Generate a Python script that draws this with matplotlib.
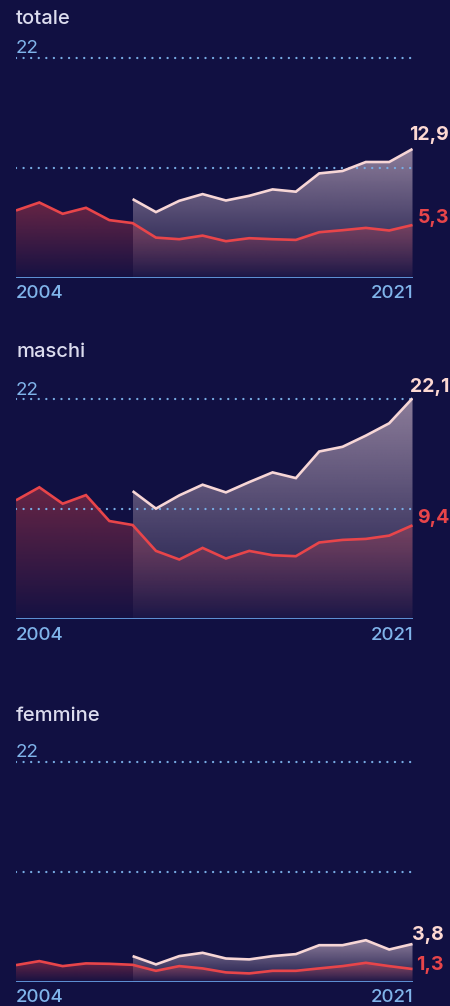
import numpy as np
import matplotlib
matplotlib.use("Agg")
import matplotlib.pyplot as plt
from matplotlib.colors import to_rgb

plt.rcParams['font.family'] = ['Inter', 'DejaVu Sans']

# ---- data -------------------------------------------------------------
years_all = list(range(2004, 2022))
years_new = list(range(2009, 2022))

panel_titles = ["totale", "maschi", "femmine"]

red_totale = [6.75, 7.55, 6.42, 7.02, 5.79, 5.49, 4.04, 3.88, 4.24, 3.68,
              3.98, 3.88, 3.81, 4.58, 4.78, 5.01, 4.75, 5.3]
white_totale = [7.89, 6.59, 7.72, 8.39, 7.75, 8.22, 8.86, 8.63, 10.46,
                10.7, 11.6, 11.6, 12.9]

red_maschi = [11.9, 13.2, 11.56, 12.42, 9.83, 9.43, 6.84, 5.98, 7.14, 6.08,
              6.84, 6.41, 6.31, 7.68, 7.94, 8.04, 8.37, 9.4]
white_maschi = [12.82, 11.07, 12.39, 13.46, 12.69, 13.72, 14.69, 14.12,
                16.78, 17.25, 18.37, 19.6, 22.1]

red_femmine = [1.69, 2.09, 1.59, 1.86, 1.82, 1.72, 1.12, 1.59, 1.36, 0.96,
               0.86, 1.12, 1.12, 1.36, 1.59, 1.92, 1.59, 1.3]
white_femmine = [2.59, 1.76, 2.59, 2.92, 2.35, 2.26, 2.59, 2.79, 3.68,
                 3.68, 4.18, 3.25, 3.8]

red_series = [red_totale, red_maschi, red_femmine]
white_series = [white_totale, white_maschi, white_femmine]

grid_values = [11, 22]
top_tick_label = "22"
first_year_label = "2004"
last_year_label = "2021"

# ---- style ------------------------------------------------------------
BG = "#111042"
RED = "#e8454a"
WHITE_LINE = "#f7d6d6"
WHITE_FILL = "#f2d6e2"
LABEL_WHITE = "#fdd9d3"
AXIS_BLUE = "#5f92d6"
DOT_BLUE = "#78acE4"
TEXT_BLUE = "#80b4ea"
TITLE = "#dcdcee"

W, H = 450, 1006
DPI = 100
X0, X1 = 16.0, 412.5          # pixel span of 2004..2021
PX_PER_UNIT = 10.0
YTOP = 24.0
baselines = [278.0, 619.3, 982.0]
title_baselines = [23.5, 356.7, 720.7]

# value labels: right edge (px) and vertical centre offset above last point (px)
label_right = [449, 449, 444]
label_dy = [((14), (7)), ((11), (7)), ((9), (4))]


def fy(ypx):
    return 1 - ypx / H


def grad_fill(ax, x, y, rgb, a_top, a_bot, z):
    poly = ax.fill_between(x, y, 0, facecolor="none", edgecolor="none")
    ymax = max(y)
    n = 256
    img = np.zeros((n, 1, 4))
    img[..., :3] = to_rgb(rgb)
    img[..., 3] = np.linspace(a_bot, a_top, n).reshape(-1, 1)
    im = ax.imshow(img, aspect="auto", origin="lower",
                   extent=[x[0], x[-1], 0, ymax], zorder=z,
                   interpolation="bilinear")
    im.set_clip_path(poly.get_paths()[0], transform=ax.transData)


fig = plt.figure(figsize=(W / DPI, H / DPI), dpi=DPI, facecolor=BG)

for i, (title, reds, whites) in enumerate(zip(panel_titles, red_series, white_series)):
    base = baselines[i]
    ax = fig.add_axes([X0 / W, (H - base) / H, (X1 - X0) / W,
                       YTOP * PX_PER_UNIT / H])
    ax.set_facecolor("none")
    for s in ax.spines.values():
        s.set_visible(False)
    ax.set_xticks([])
    ax.set_yticks([])

    grad_fill(ax, years_new, whites, WHITE_FILL, 0.55, 0.03, 1)
    grad_fill(ax, years_all, reds, RED, 0.40, 0.02, 2)

    for g in grid_values:
        ax.axhline(g, color=DOT_BLUE, lw=1.7, linestyle=(0, (0.01, 3.2)),
                   dash_capstyle="round", zorder=3)
    ax.axhline(0, color=AXIS_BLUE, lw=1.4, zorder=3)

    ax.plot(years_new, whites, color=WHITE_LINE, lw=1.9, zorder=4,
            solid_joinstyle="miter", solid_capstyle="butt")
    ax.plot(years_all, reds, color=RED, lw=1.9, zorder=4,
            solid_joinstyle="miter", solid_capstyle="butt")

    ax.set_xlim(years_all[0], years_all[-1])
    ax.set_ylim(0, YTOP)

    fmt = lambda v: f"{v:.1f}".replace(".", ",")
    wdy, rdy = label_dy[i]
    wy = base - whites[-1] * PX_PER_UNIT - wdy
    ry = base - reds[-1] * PX_PER_UNIT - rdy
    fig.text(label_right[i] / W, fy(wy), fmt(whites[-1]), ha="right",
             va="center", fontsize=14, fontweight="bold", color=LABEL_WHITE)
    fig.text(label_right[i] / W, fy(ry), fmt(reds[-1]), ha="right",
             va="center", fontsize=14, fontweight="bold", color=RED)

    # texts around the panel
    top_px = base - 22 * PX_PER_UNIT
    fig.text(X0 / W, fy(title_baselines[i]), title, color=TITLE,
             fontsize=14.5, fontweight="medium", ha="left", va="baseline")
    fig.text(X0 / W, fy(top_px - 4.7), top_tick_label, color=TEXT_BLUE,
             fontsize=13.5, ha="left", va="baseline")
    fig.text(X0 / W, fy(base + 20.5), first_year_label, color=TEXT_BLUE,
             fontsize=13.5, fontweight="medium", ha="left", va="baseline")
    fig.text((X1 + 0.5) / W, fy(base + 20.5), last_year_label, color=TEXT_BLUE,
             fontsize=13.5, fontweight="medium", ha="right", va="baseline")

fig.savefig("out.png", dpi=DPI, facecolor=BG)
